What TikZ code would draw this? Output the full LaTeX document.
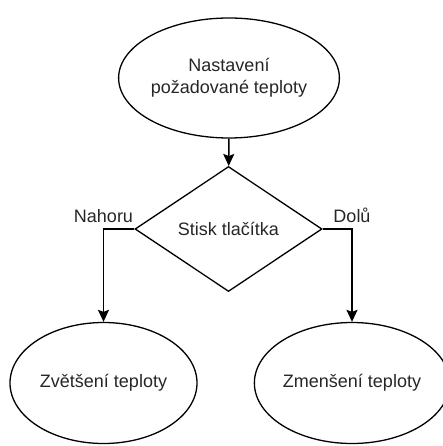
\documentclass[tikz,border=0pt]{standalone}
\usepackage{fontspec}
\setmainfont{Liberation Sans}
\usetikzlibrary{shapes.geometric,arrows.meta}
\begin{document}
\begin{tikzpicture}[x=1pt,y=-1pt,
  font=\fontsize{18}{21.6}\selectfont,
  every node/.style={text=black!85},
  tvar/.style={draw, line width=1.3pt, inner sep=0pt, align=center},
  sipka/.style={draw, line width=1.5pt, -{Stealth[length=12pt,width=11pt,inset=2pt]}}]
\useasboundingbox (0,0) rectangle (443,446);
\node[tvar, ellipse, minimum width=186, minimum height=120] (nastaveni) at (229,78) {Nastavení\\požadované teploty};
\node[tvar, diamond, minimum width=187, minimum height=125] (stisk) at (228.5,229) {Stisk tlačítka};
\node[tvar, ellipse, minimum width=187, minimum height=121] (zvetseni) at (103.5,383) {Zvětšení teploty};
\node[tvar, ellipse, minimum width=187, minimum height=121] (zmenseni) at (352,383) {Zmenšení teploty};
\path[sipka] (nastaveni) -- (stisk);
\path[sipka] (stisk.west) -| node[pos=0.5, inner sep=1pt, label=above:Nahoru] {} (zvetseni.north);
\path[sipka] (stisk.east) -| node[pos=0.5, inner sep=1pt, label=above:Dolů] {} (zmenseni.north);
\end{tikzpicture}
\end{document}
